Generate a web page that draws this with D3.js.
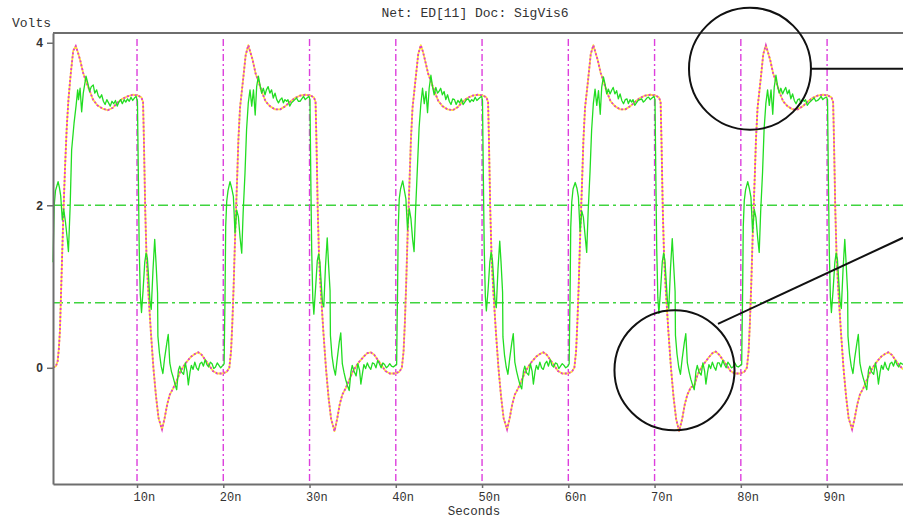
<!DOCTYPE html>
<html><head><meta charset="utf-8">
<script src="https://cdn.jsdelivr.net/npm/d3@7"></script>
<style>body{margin:0;background:#fff;} svg{display:block;}</style>
</head><body>
<svg id="chart" width="903" height="520"></svg>
<script>
// ---------------- data ----------------
const titleText = "Net: ED[11] Doc: SigVis6";
const yAxisLabel = "Volts";
const xAxisLabel = "Seconds";
const xDomain = [0.26, 98.8];      // ns
const yDomain = [-1.43, 4.12];     // volts
const xTickValues = [10, 20, 30, 40, 50, 60, 70, 80, 90];
const xTickLabels = ["10n", "20n", "30n", "40n", "50n", "60n", "70n", "80n", "90n"];
const yTickValues = [0, 2, 4];
const yTickLabels = ["0", "2", "4"];
const markerTimes = [10, 20, 30, 40, 50, 60, 70, 80, 90];
const thresholdVolts = [0.8, 2.0];

// simulated waveform (dotted) [ns, V]
const redP1 = [[0.26,0.0],[0.6,0.02],[0.8,0.08],[0.95,0.25],[1.07,0.47],[1.27,1.2],[1.45,1.85],[1.65,2.45],[1.85,2.95],[2.05,3.3],[2.3,3.6],[2.6,3.9],[2.9,3.96],[3.15,3.88],[3.4,3.79],[3.75,3.63],[4.1,3.52],[4.4,3.44],[4.9,3.3],[5.4,3.23],[6.0,3.19],[6.6,3.17],[7.2,3.2],[7.7,3.26],[8.3,3.31],[8.9,3.34],[9.5,3.36],[10.1,3.35],[10.5,3.33],[10.7,3.27],[10.8,2.8],[10.95,1.95],[11.1,1.37],[11.3,0.96],[11.6,0.45],[11.9,0.0],[12.2,-0.35],[12.5,-0.62],[12.9,-0.76],[13.2,-0.62],[13.5,-0.45],[13.8,-0.33],[14.2,-0.25],[14.6,-0.16],[15.0,-0.05],[15.4,0.02],[15.8,0.08],[16.3,0.14],[16.7,0.17],[17.1,0.19],[17.5,0.16],[17.9,0.1],[18.3,0.04],[18.8,-0.04],[19.3,-0.07],[19.9,-0.07]];
const redP2 = [[20.4,-0.05],[20.7,0.0],[20.9,0.2],[21.05,0.55],[21.2,1.0],[21.36,1.58],[21.5,2.0],[21.63,2.4],[21.75,2.8],[21.94,3.2],[22.3,3.55],[22.6,3.85],[22.9,3.97],[23.15,3.88],[23.4,3.79],[23.75,3.62],[24.1,3.52],[24.45,3.4],[24.9,3.28],[25.4,3.22],[26.0,3.18],[26.6,3.18],[27.2,3.22],[27.7,3.27],[28.3,3.32],[28.9,3.35],[29.5,3.36],[30.1,3.35],[30.5,3.33],[30.7,3.27],[30.8,2.8],[30.95,1.95],[31.1,1.37],[31.3,0.96],[31.6,0.45],[31.9,0.0],[32.2,-0.36],[32.5,-0.63],[32.9,-0.78],[33.2,-0.63],[33.5,-0.45],[33.8,-0.33],[34.2,-0.25],[34.6,-0.15],[35.0,-0.05],[35.4,0.02],[35.8,0.08],[36.3,0.14],[36.7,0.18],[37.1,0.19],[37.5,0.16],[37.9,0.1],[38.3,0.04],[38.8,-0.04],[39.3,-0.07],[39.9,-0.07]];
const redP3 = [[40.4,-0.05],[40.7,0.0],[40.9,0.2],[41.05,0.55],[41.2,1.02],[41.36,1.6],[41.5,2.02],[41.63,2.42],[41.75,2.8],[41.94,3.2],[42.3,3.56],[42.6,3.86],[42.9,3.97],[43.15,3.89],[43.4,3.78],[43.75,3.62],[44.1,3.52],[44.45,3.41],[44.9,3.29],[45.4,3.22],[46.0,3.18],[46.6,3.17],[47.2,3.21],[47.7,3.27],[48.3,3.32],[48.9,3.35],[49.5,3.36],[50.1,3.35],[50.5,3.33],[50.7,3.27],[50.8,2.8],[50.95,1.95],[51.1,1.37],[51.3,0.96],[51.6,0.45],[51.9,0.0],[52.2,-0.35],[52.5,-0.62],[52.9,-0.76],[53.2,-0.62],[53.5,-0.45],[53.8,-0.33],[54.2,-0.25],[54.6,-0.15],[55.0,-0.05],[55.4,0.02],[55.8,0.08],[56.3,0.14],[56.7,0.17],[57.1,0.19],[57.5,0.16],[57.9,0.1],[58.3,0.04],[58.8,-0.04],[59.3,-0.07],[59.9,-0.07]];
const redP4 = [[60.4,-0.05],[60.7,0.0],[60.9,0.2],[61.05,0.56],[61.2,1.0],[61.36,1.58],[61.5,2.0],[61.63,2.4],[61.75,2.8],[61.94,3.2],[62.3,3.55],[62.6,3.86],[62.9,3.97],[63.15,3.88],[63.4,3.79],[63.75,3.63],[64.1,3.52],[64.45,3.4],[64.9,3.28],[65.4,3.22],[66.0,3.18],[66.6,3.18],[67.2,3.22],[67.7,3.27],[68.3,3.32],[68.9,3.35],[69.5,3.36],[70.1,3.35],[70.5,3.33],[70.7,3.27],[70.8,2.8],[70.95,1.95],[71.1,1.37],[71.3,0.96],[71.6,0.45],[71.9,0.0],[72.2,-0.36],[72.5,-0.63],[72.85,-0.78],[73.2,-0.63],[73.5,-0.45],[73.8,-0.33],[74.2,-0.24],[74.6,-0.22],[75.0,-0.08],[75.4,0.0],[75.8,0.06],[76.3,0.13],[76.7,0.18],[77.1,0.2],[77.5,0.16],[77.9,0.1],[78.3,0.04],[78.8,-0.04],[79.3,-0.07],[79.9,-0.07]];
const redP5 = [[80.4,-0.05],[80.7,0.0],[80.9,0.2],[81.05,0.55],[81.2,1.0],[81.36,1.58],[81.5,2.0],[81.63,2.4],[81.75,2.8],[81.94,3.2],[82.3,3.55],[82.6,3.86],[82.9,3.97],[83.15,3.88],[83.4,3.79],[83.75,3.62],[84.1,3.52],[84.45,3.4],[84.9,3.28],[85.4,3.22],[86.0,3.18],[86.6,3.18],[87.2,3.22],[87.7,3.27],[88.3,3.32],[88.9,3.35],[89.5,3.36],[90.1,3.35],[90.5,3.33],[90.7,3.27],[90.8,2.8],[90.95,1.95],[91.1,1.37],[91.3,0.96],[91.6,0.45],[91.9,0.0],[92.2,-0.35],[92.5,-0.62],[92.9,-0.76],[93.2,-0.62],[93.5,-0.45],[93.8,-0.33],[94.2,-0.25],[94.6,-0.15],[95.0,-0.05],[95.4,0.02],[95.8,0.08],[96.3,0.14],[96.7,0.17],[97.1,0.19],[97.5,0.16],[97.9,0.1],[98.3,0.04],[98.8,-0.02]];

// measured waveform (solid) [ns, V]
const greenP1 = [[0.26,1.3],[0.4,2.0],[0.55,2.18],[0.85,2.29],[1.0,2.22],[1.15,2.12],[1.34,1.82],[1.5,1.95],[1.7,1.8],[1.9,1.6],[2.05,1.43],[2.25,1.99],[2.42,2.68],[2.7,3.01],[2.93,3.22],[3.12,3.42],[3.22,3.3],[3.4,3.44],[3.58,3.15],[3.77,3.38],[4.09,3.59],[4.3,3.5],[4.5,3.4],[4.7,3.46],[4.93,3.48],[5.1,3.38],[5.32,3.42],[5.5,3.35],[5.7,3.32],[5.9,3.36],[6.1,3.28],[6.3,3.24],[6.5,3.3],[6.7,3.26],[6.9,3.22],[7.1,3.28],[7.3,3.25],[7.5,3.29],[7.7,3.22],[7.9,3.27],[8.1,3.3],[8.3,3.25],[8.5,3.3],[8.7,3.27],[8.9,3.31],[9.1,3.28],[9.3,3.33],[9.5,3.29],[9.7,3.32],[9.9,3.34],[10.05,3.28],[10.15,2.4],[10.25,1.5],[10.38,0.9],[10.52,0.68],[10.7,0.95],[10.9,1.3],[11.05,1.41],[11.2,1.35],[11.35,1.1],[11.5,0.82],[11.65,0.72],[11.85,1.2],[12.05,1.58],[12.2,1.3],[12.38,0.92],[12.42,0.39],[12.6,0.18],[12.8,0.02],[13.0,-0.07],[13.2,0.12],[13.45,0.3],[13.62,0.41],[13.8,0.06],[14.0,-0.05],[14.2,-0.12],[14.4,-0.2],[14.6,-0.27],[14.8,-0.03],[14.95,0.02],[15.15,-0.05],[15.4,-0.08],[15.6,0.06],[15.8,-0.05],[15.95,-0.21],[16.15,-0.05],[16.3,0.03],[16.5,-0.02],[16.7,0.07],[16.9,0.0],[17.1,-0.03],[17.3,0.05],[17.5,0.07],[17.7,0.02],[17.9,0.1],[18.1,0.04],[18.3,0.01],[18.5,0.07],[18.7,0.05],[18.9,-0.01],[19.1,0.01],[19.3,0.06],[19.5,0.03],[19.7,0.0],[19.95,0.03]];
const greenP2 = [[20.1,0.05],[20.15,0.5],[20.2,0.84],[20.28,1.74],[20.4,2.05],[20.55,2.18],[20.78,2.29],[21.0,2.2],[21.17,2.11],[21.36,1.66],[21.56,1.94],[21.75,1.86],[21.95,1.6],[22.14,1.41],[22.3,1.9],[22.52,2.4],[22.7,2.93],[22.9,3.26],[23.1,3.42],[23.3,3.22],[23.5,3.42],[23.7,3.11],[23.87,3.46],[24.07,3.59],[24.26,3.48],[24.45,3.38],[24.64,3.44],[24.84,3.36],[25.0,3.42],[25.2,3.46],[25.4,3.38],[25.6,3.42],[25.8,3.32],[26.0,3.38],[26.2,3.3],[26.4,3.26],[26.6,3.3],[26.8,3.32],[26.96,3.26],[27.15,3.3],[27.35,3.28],[27.5,3.3],[27.7,3.22],[27.9,3.26],[28.1,3.28],[28.3,3.3],[28.5,3.32],[28.7,3.28],[28.9,3.28],[29.1,3.31],[29.3,3.34],[29.5,3.3],[29.7,3.32],[29.94,3.34],[30.05,3.3],[30.15,2.3],[30.25,1.45],[30.38,0.85],[30.5,0.66],[30.7,0.98],[30.9,1.32],[31.05,1.4],[31.2,1.3],[31.35,1.05],[31.5,0.8],[31.65,0.75],[31.85,1.25],[32.05,1.6],[32.2,1.28],[32.38,0.95],[32.42,0.4],[32.6,0.15],[32.8,0.0],[33.0,-0.09],[33.2,0.1],[33.45,0.32],[33.62,0.43],[33.8,0.05],[34.0,-0.06],[34.2,-0.15],[34.4,-0.22],[34.6,-0.28],[34.8,-0.05],[34.95,0.03],[35.15,-0.04],[35.4,-0.1],[35.6,0.05],[35.8,-0.03],[35.95,-0.2],[36.15,-0.06],[36.3,0.04],[36.5,-0.01],[36.7,0.06],[36.9,0.01],[37.1,-0.02],[37.3,0.06],[37.5,0.05],[37.7,0.0],[37.9,0.09],[38.1,0.05],[38.3,0.0],[38.5,0.06],[38.7,0.04],[38.9,0.0],[39.1,0.02],[39.3,0.05],[39.5,0.02],[39.7,0.01],[39.95,0.03]];
const greenP3 = [[40.1,0.04],[40.15,0.55],[40.2,0.9],[40.28,1.7],[40.4,2.08],[40.55,2.2],[40.8,2.3],[41.0,2.18],[41.17,2.08],[41.36,1.7],[41.56,1.96],[41.75,1.84],[41.95,1.58],[42.12,1.43],[42.3,1.95],[42.5,2.45],[42.7,2.95],[42.9,3.24],[43.1,3.44],[43.3,3.25],[43.5,3.4],[43.68,3.14],[43.87,3.44],[44.07,3.6],[44.26,3.46],[44.45,3.36],[44.64,3.45],[44.84,3.38],[45.0,3.4],[45.2,3.44],[45.4,3.36],[45.6,3.4],[45.8,3.3],[46.0,3.36],[46.2,3.28],[46.4,3.24],[46.6,3.31],[46.8,3.3],[47.0,3.24],[47.2,3.29],[47.4,3.26],[47.6,3.31],[47.8,3.24],[48.0,3.27],[48.2,3.3],[48.4,3.31],[48.6,3.27],[48.8,3.3],[49.0,3.28],[49.2,3.33],[49.4,3.29],[49.6,3.31],[49.8,3.33],[49.95,3.34],[50.05,3.29],[50.15,2.35],[50.25,1.48],[50.38,0.88],[50.5,0.7],[50.7,0.96],[50.9,1.3],[51.05,1.42],[51.2,1.33],[51.35,1.08],[51.5,0.83],[51.65,0.74],[51.85,1.22],[52.05,1.56],[52.2,1.3],[52.38,0.93],[52.42,0.38],[52.6,0.16],[52.8,0.01],[53.0,-0.08],[53.2,0.11],[53.45,0.31],[53.62,0.42],[53.8,0.07],[54.0,-0.04],[54.2,-0.13],[54.4,-0.21],[54.6,-0.26],[54.8,-0.04],[54.95,0.02],[55.15,-0.06],[55.4,-0.09],[55.6,0.05],[55.8,-0.04],[55.95,-0.2],[56.15,-0.04],[56.3,0.03],[56.5,-0.02],[56.7,0.07],[56.9,0.0],[57.1,-0.02],[57.3,0.05],[57.5,0.08],[57.7,0.02],[57.9,0.1],[58.1,0.03],[58.3,0.01],[58.5,0.06],[58.7,0.05],[58.9,-0.01],[59.1,0.02],[59.3,0.05],[59.5,0.03],[59.7,0.0],[59.95,0.02]];
const greenP4 = [[60.1,0.05],[60.15,0.52],[60.2,0.86],[60.28,1.72],[60.4,2.04],[60.55,2.2],[60.8,2.28],[61.0,2.21],[61.17,2.1],[61.36,1.68],[61.56,1.93],[61.75,1.85],[61.95,1.62],[62.13,1.42],[62.3,1.92],[62.52,2.42],[62.7,2.92],[62.9,3.25],[63.1,3.43],[63.3,3.23],[63.5,3.41],[63.7,3.12],[63.87,3.45],[64.07,3.58],[64.26,3.49],[64.45,3.37],[64.64,3.43],[64.84,3.37],[65.0,3.41],[65.2,3.45],[65.4,3.37],[65.6,3.41],[65.8,3.31],[66.0,3.37],[66.2,3.29],[66.4,3.25],[66.6,3.3],[66.8,3.31],[66.96,3.25],[67.15,3.3],[67.35,3.27],[67.5,3.3],[67.7,3.23],[67.9,3.26],[68.1,3.29],[68.3,3.3],[68.5,3.31],[68.7,3.27],[68.9,3.29],[69.1,3.32],[69.3,3.33],[69.5,3.3],[69.7,3.32],[69.94,3.34],[70.05,3.3],[70.15,2.32],[70.25,1.46],[70.38,0.86],[70.5,0.67],[70.7,0.97],[70.9,1.31],[71.05,1.41],[71.2,1.32],[71.35,1.06],[71.5,0.81],[71.65,0.73],[71.85,1.23],[72.05,1.59],[72.2,1.29],[72.38,0.94],[72.42,0.4],[72.6,0.17],[72.8,0.01],[73.0,-0.08],[73.2,0.11],[73.45,0.31],[73.62,0.42],[73.8,0.06],[74.0,-0.05],[74.2,-0.14],[74.4,-0.21],[74.6,-0.27],[74.8,-0.04],[74.95,0.03],[75.15,-0.05],[75.4,-0.09],[75.6,0.06],[75.8,-0.04],[75.95,-0.2],[76.15,-0.05],[76.3,0.04],[76.5,-0.01],[76.7,0.07],[76.9,0.01],[77.1,-0.03],[77.3,0.06],[77.5,0.06],[77.7,0.01],[77.9,0.09],[78.1,0.04],[78.3,0.0],[78.5,0.07],[78.7,0.04],[78.9,0.0],[79.1,0.01],[79.3,0.06],[79.5,0.02],[79.7,0.01],[79.95,0.03]];
const greenP5 = [[80.1,0.04],[80.15,0.5],[80.2,0.85],[80.28,1.73],[80.4,2.06],[80.55,2.19],[80.8,2.29],[81.0,2.2],[81.17,2.1],[81.36,1.67],[81.56,1.95],[81.75,1.85],[81.95,1.6],[82.13,1.42],[82.3,1.92],[82.52,2.41],[82.7,2.94],[82.9,3.25],[83.1,3.42],[83.3,3.23],[83.5,3.42],[83.7,3.12],[83.87,3.45],[84.07,3.6],[84.26,3.47],[84.45,3.38],[84.64,3.44],[84.84,3.37],[85.0,3.41],[85.2,3.45],[85.4,3.37],[85.6,3.42],[85.8,3.31],[86.0,3.37],[86.2,3.29],[86.4,3.25],[86.6,3.3],[86.8,3.31],[86.96,3.25],[87.15,3.3],[87.35,3.28],[87.5,3.3],[87.7,3.23],[87.9,3.26],[88.1,3.28],[88.3,3.3],[88.5,3.32],[88.7,3.28],[88.9,3.29],[89.1,3.31],[89.3,3.34],[89.5,3.3],[89.7,3.32],[89.94,3.33],[90.05,3.3],[90.15,2.33],[90.25,1.47],[90.38,0.87],[90.5,0.68],[90.7,0.96],[90.9,1.3],[91.05,1.41],[91.2,1.33],[91.35,1.07],[91.5,0.82],[91.65,0.73],[91.85,1.21],[92.05,1.58],[92.2,1.3],[92.38,0.93],[92.42,0.39],[92.6,0.17],[92.8,0.02],[93.0,-0.07],[93.2,0.12],[93.45,0.3],[93.62,0.41],[93.8,0.06],[94.0,-0.05],[94.2,-0.13],[94.4,-0.2],[94.6,-0.27],[94.8,-0.03],[94.95,0.02],[95.15,-0.05],[95.4,-0.08],[95.6,0.06],[95.8,-0.05],[95.95,-0.2],[96.15,-0.05],[96.3,0.03],[96.5,-0.02],[96.7,0.07],[96.9,0.0],[97.1,-0.03],[97.3,0.05],[97.5,0.07],[97.7,0.02],[97.9,0.09],[98.1,0.04],[98.3,0.01],[98.5,0.06],[98.8,0.04]];

// annotation circles: centre [ns, V], radius in ns
const circleCentres = [[81.06, 3.68], [72.31, -0.03]];
const circleRadiiNs = [7.07, 6.96];
// annotation leader lines [[ns,V],[ns,V]]
const leaderLines = [[[88.13, 3.68], [98.8, 3.68]], [[77.35, 0.54], [98.8, 1.6]]];

// ---------------- drawing ----------------
const svg = d3.select("#chart");
const plotLeft = 53, plotRight = 903, plotTop = 33, plotBottom = 484;
const x = d3.scaleLinear().domain(xDomain).range([plotLeft, plotRight]);
const y = d3.scaleLinear().domain(yDomain).range([plotBottom, plotTop]);

const mono = "'Liberation Mono','Courier New',monospace";
const axisCol = "#6e6e6e";

// threshold lines
svg.append("g").selectAll("line").data(thresholdVolts).join("line")
  .attr("x1", plotLeft).attr("x2", plotRight)
  .attr("y1", d => y(d)).attr("y2", d => y(d))
  .attr("stroke", "#3fd43f").attr("stroke-width", 1.4)
  .attr("stroke-dasharray", "10,4,3,4");

// time markers
svg.append("g").selectAll("line").data(markerTimes).join("line")
  .attr("x1", d => x(d)).attr("x2", d => x(d))
  .attr("y1", plotTop + 6).attr("y2", plotBottom)
  .attr("stroke", "#dd3fdd").attr("stroke-width", 1.4)
  .attr("stroke-dasharray", "7,3,2,3");

const line = d3.line().x(d => x(d[0])).y(d => y(d[1]));
const red = [].concat(redP1, redP2, redP3, redP4, redP5);
const green = [].concat(greenP1, greenP2, greenP3, greenP4, greenP5);

svg.append("path").datum(red).attr("d", line)
  .attr("fill", "none").attr("stroke", "#ffe43a").attr("stroke-width", 1.8)
  .attr("stroke-linejoin", "round");
svg.append("path").datum(red).attr("d", line)
  .attr("fill", "none").attr("stroke", "#e03ccf").attr("stroke-width", 1.8)
  .attr("stroke-dasharray", "2,2");

svg.append("path").datum(green).attr("d", line)
  .attr("fill", "none").attr("stroke", "#22dd22").attr("stroke-width", 1.3)
  .attr("stroke-linejoin", "round");

// axes frame
const yAxis = d3.axisLeft(y).tickValues(yTickValues).tickFormat((d, i) => yTickLabels[i]).tickSize(6).tickSizeOuter(0);
const gy = svg.append("g").attr("transform", `translate(${plotLeft},0)`).call(yAxis);
gy.select(".domain").attr("stroke", axisCol).attr("stroke-width", 2);
gy.selectAll(".tick line").attr("stroke", axisCol).attr("stroke-width", 1.5);
gy.selectAll(".tick text").attr("font-family", "'Liberation Sans',Arial,sans-serif")
  .attr("font-size", 12).attr("font-weight", "bold").attr("fill", "#333").attr("x", -10);

const xAxis = d3.axisBottom(x).tickValues(xTickValues).tickFormat((d, i) => xTickLabels[i]).tickSize(4).tickSizeOuter(0);
const gx = svg.append("g").attr("transform", `translate(0,${plotBottom})`).call(xAxis);
gx.select(".domain").attr("stroke", axisCol).attr("stroke-width", 2);
gx.selectAll(".tick line").attr("stroke", axisCol).attr("stroke-width", 1.5);
gx.selectAll(".tick text").attr("font-family", mono).attr("font-size", 12)
  .attr("fill", "#333").attr("text-anchor", "start").attr("x", -4).attr("y", 8);

svg.append("line").attr("x1", plotLeft).attr("x2", plotRight)
  .attr("y1", plotTop).attr("y2", plotTop)
  .attr("stroke", axisCol).attr("stroke-width", 2);

// texts
svg.append("text").attr("x", 475).attr("y", 17).attr("text-anchor", "middle")
  .attr("font-family", mono).attr("font-size", 13).attr("fill", "#333").text(titleText);
svg.append("text").attr("x", 12).attr("y", 27)
  .attr("font-family", mono).attr("font-size", 13).attr("fill", "#333").text(yAxisLabel);
svg.append("text").attr("x", 474).attr("y", 515).attr("text-anchor", "middle")
  .attr("font-family", mono).attr("font-size", 12.5).attr("fill", "#333").text(xAxisLabel);

// annotations
svg.append("g").selectAll("circle").data(circleCentres).join("circle")
  .attr("cx", d => x(d[0])).attr("cy", d => y(d[1]))
  .attr("r", (d, i) => x(d[0] + circleRadiiNs[i]) - x(d[0]))
  .attr("fill", "none").attr("stroke", "#111").attr("stroke-width", 2);
svg.append("g").selectAll("line").data(leaderLines).join("line")
  .attr("x1", d => x(d[0][0])).attr("y1", d => y(d[0][1]))
  .attr("x2", d => x(d[1][0])).attr("y2", d => y(d[1][1]))
  .attr("stroke", "#111").attr("stroke-width", 2);
</script>
</body></html>
